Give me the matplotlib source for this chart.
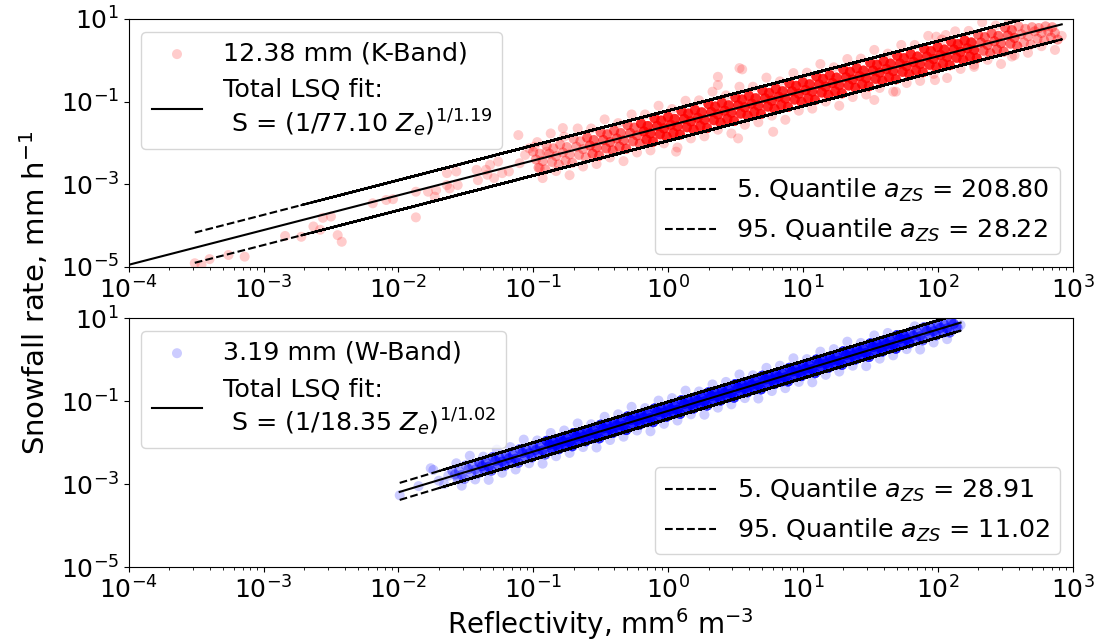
import numpy as np
import matplotlib
matplotlib.use("Agg")
import matplotlib.pyplot as plt
from matplotlib.ticker import LogLocator, NullLocator
from math import gcd

plt.rcParams["path.simplify"] = False

# ---------------- K-Band (12.38 mm) ----------------
k_label = "12.38 mm (K-Band)"
k_a, k_b = 77.10, 1.19
k_q05, k_q95 = 208.80, 28.22
k_fit_zmin = 1e-4
k_first_pass_end = -2.9

k_core_logz = [
    -1.00,-0.98,-0.96, -0.95,-0.93,-0.91, -0.90,-0.88,-0.86, -0.85,-0.83,-0.81,
    -0.80,-0.78,-0.76, -0.75,-0.73,-0.71, -0.70,-0.68,-0.66, -0.65,-0.63,-0.61,
    -0.60,-0.58,-0.56, -0.55,-0.53,-0.51, -0.50,-0.48,-0.46, -0.45,-0.43,-0.41,
    -0.40,-0.38,-0.36, -0.35,-0.33,-0.31, -0.30,-0.28,-0.26, -0.25,-0.23,-0.21,
    -0.20,-0.18,-0.16, -0.15,-0.13,-0.11, -0.10,-0.08,-0.06, -0.05,-0.03,-0.01,
    0.00,0.02,0.04, 0.05,0.07,0.09, 0.10,0.12,0.14, 0.15,0.17,0.19,
    0.20,0.22,0.24, 0.25,0.27,0.29, 0.30,0.32,0.34, 0.35,0.37,0.39,
    0.40,0.42,0.44, 0.45,0.47,0.49, 0.50,0.52,0.54, 0.55,0.57,0.59,
    0.60,0.62,0.64, 0.65,0.67,0.69, 0.70,0.72,0.74, 0.75,0.77,0.79,
    0.80,0.82,0.84, 0.85,0.87,0.89, 0.90,0.92,0.94, 0.95,0.97,0.99,
    1.00,1.02,1.04, 1.05,1.07,1.09, 1.10,1.12,1.14, 1.15,1.17,1.19,
    1.20,1.22,1.24, 1.25,1.27,1.29, 1.30,1.32,1.34, 1.35,1.37,1.39,
    1.40,1.42,1.44, 1.45,1.47,1.49, 1.50,1.52,1.54, 1.55,1.57,1.59,
    1.60,1.62,1.64, 1.65,1.67,1.69, 1.70,1.72,1.74, 1.75,1.77,1.79,
    1.80,1.82,1.84, 1.85,1.87,1.89, 1.90,1.92,1.94, 1.95,1.97,1.99,
    2.00,2.02,2.04, 2.05,2.07,2.09, 2.10,2.12,2.14, 2.15,2.17,2.19,
    2.20,2.22,2.24, 2.25,2.27,2.29, 2.30,2.32,2.34, 2.35,2.37,2.39,
    2.40,2.42,2.44, 2.45,2.47,2.49, 2.50,2.52,2.54, 2.55,2.57,2.59,
    2.60,2.62,2.64, 2.65,2.67,2.69, 2.70,2.72,2.74, 2.75,2.77,2.79,
    2.80,2.82,2.84, 2.85,2.87,2.89,
]
k_core_logs = [
    -2.21,-2.40,-2.60, -2.26,-2.44,-2.64, -2.07,-2.26,-2.46, -2.13,-2.32,-2.52,
    -2.04,-2.23,-2.43, -2.10,-2.28,-2.48, -1.90,-2.09,-2.29, -1.96,-2.15,-2.35,
    -1.87,-2.06,-2.26, -1.93,-2.11,-2.31, -1.74,-1.93,-2.13, -1.79,-1.98,-2.18,
    -1.70,-1.89,-2.09, -1.76,-1.94,-2.14, -1.57,-1.76,-1.96, -1.63,-1.82,-2.02,
    -1.53,-1.72,-1.92, -1.59,-1.77,-1.97, -1.40,-1.59,-1.79, -1.46,-1.65,-1.85,
    -1.37,-1.56,-1.76, -1.42,-1.60,-1.80, -1.23,-1.42,-1.62, -1.29,-1.48,-1.68,
    -1.20,-1.39,-1.59, -1.26,-1.44,-1.64, -1.06,-1.25,-1.45, -1.12,-1.31,-1.51,
    -1.03,-1.22,-1.42, -1.09,-1.27,-1.47, -0.90,-1.09,-1.29, -0.95,-1.14,-1.34,
    -0.86,-1.05,-1.25, -0.92,-1.10,-1.30, -0.73,-0.92,-1.12, -0.79,-0.98,-1.18,
    -0.69,-0.88,-1.08, -0.75,-0.93,-1.13, -0.56,-0.75,-0.95, -0.62,-0.81,-1.01,
    -0.53,-0.72,-0.92, -0.58,-0.76,-0.96, -0.39,-0.58,-0.78, -0.45,-0.64,-0.84,
    -0.36,-0.55,-0.75, -0.42,-0.60,-0.80, -0.22,-0.41,-0.61, -0.28,-0.47,-0.67,
    -0.19,-0.38,-0.58, -0.25,-0.43,-0.63, -0.06,-0.25,-0.45, -0.11,-0.30,-0.50,
    -0.02,-0.21,-0.41, -0.08,-0.26,-0.46, 0.11,-0.08,-0.28, 0.05,-0.14,-0.34,
    0.15,-0.04,-0.24, 0.09,-0.09,-0.29, 0.28,0.09,-0.11, 0.22,0.03,-0.17,
    0.32,0.13,-0.08, 0.26,0.08,-0.12, 0.45,0.26,0.06, 0.39,0.20,0.00,
    0.48,0.29,0.09, 0.43,0.25,0.05, 0.62,0.43,0.23, 0.56,0.37,0.17,
    0.65,0.46,0.26, 0.59,0.41,0.21, 0.79,0.60,0.40, 0.73,0.54,0.34,
    0.82,0.63,0.43, 0.76,0.58,0.38, 0.80,0.70,0.52, 0.78,0.66,0.48,
    0.82,0.70,0.55, 0.80,0.66,0.50,
]
k_core_n = [2] * 24 + [4] * 24 + [8] * 150 + [4] * 18 + [2] * 18

k_halo_logz = [
    -0.97,-0.93,-0.87,-0.83,-0.77,-0.73,-0.67,-0.63,-0.57,-0.53,-0.47,-0.43,
    -0.37,-0.33,-0.27,-0.23,-0.17,-0.13,-0.07,-0.03,0.03,0.07,0.13,0.17,
    0.23,0.27,0.33,0.37,0.43,0.47,0.53,0.57,0.63,0.67,0.73,0.77,
    0.83,0.87,0.93,0.97,1.03,1.07,1.13,1.17,1.23,1.27,1.33,1.37,
    1.43,1.47,1.53,1.57,1.63,1.67,1.73,1.77,1.83,1.87,1.93,1.97,
    2.03,2.07,2.13,2.17,2.23,2.27,2.33,2.37,2.43,2.47,2.53,2.57,
    2.67,2.77,2.87,
]
k_halo_logs = [
    -1.98,-2.85,-1.77,-2.68,-1.85,-2.78,-1.65,-2.57,-1.65,-2.51,-1.43,-2.35,
    -1.52,-2.44,-1.31,-2.23,-1.31,-2.18,-1.10,-2.01,-1.18,-2.11,-0.98,-1.89,
    -0.97,-1.84,-0.76,-1.68,-0.85,-1.77,-0.64,-1.56,-0.64,-1.50,-0.42,-1.34,
    -0.51,-1.44,-0.31,-1.22,-0.30,-1.17,-0.09,-1.00,-0.17,-1.10,0.03,-0.89,
    0.04,-0.83,0.25,-0.67,0.16,-0.76,0.37,-0.55,0.37,-0.50,0.59,-0.33,
    0.50,-0.43,0.70,-0.21,0.71,-0.16,0.92,0.01,0.84,-0.09,0.97,0.12,
    0.18,0.34,0.25,
]

k_sparse_logz = [
    -3.51,-3.46,-3.40,-3.26,-3.14,-2.84,-2.72,-2.63,-2.58,-2.56,-2.50,-2.45,
    -2.42,-2.19,-2.09,-2.04,-1.87,-1.87,-1.78,-1.73,-1.72,-1.64,-1.64,-1.62,
    -1.57,-1.56,-1.42,-1.41,-1.35,-1.34,-1.32,-1.29,-1.26,-1.23,-1.18,-1.11,
    -1.10,-1.06,-1.03,-0.99,-0.95,-0.90,
    -0.78,-0.31,0.06,0.37,0.37,0.52,0.53,0.55,0.78,1.53,1.69,1.98,
    1.99,2.06,2.27,2.55,2.92,
]
k_sparse_logs = [
    -4.91,-4.95,-4.81,-4.71,-4.75,-4.25,-4.27,-4.02,-4.10,-3.81,-3.78,-4.23,
    -4.39,-3.46,-3.38,-3.36,-3.80,-3.18,-3.18,-3.30,-3.14,-2.73,-3.02,-3.10,
    -2.69,-3.02,-2.65,-2.90,-2.65,-2.77,-2.53,-2.85,-2.45,-2.73,-2.69,-1.81,
    -2.49,-2.29,-2.13,-2.09,-2.61,-2.21,
    -1.64,-2.13,-2.21,-0.40,-0.60,-1.89,-0.19,-0.22,-1.73,-0.96,-0.76,-0.48,
    0.57,0.61,-0.11,0.09,0.59,
]

# ---------------- W-Band (3.19 mm) ----------------
w_label = "3.19 mm (W-Band)"
w_a, w_b = 18.35, 1.02
w_q05, w_q95 = 28.91, 11.02
w_first_pass_end = -1.75

w_core_logz = [
    -1.60,-1.58,-1.56, -1.55,-1.53,-1.51, -1.50,-1.48,-1.46, -1.45,-1.43,-1.41,
    -1.40,-1.38,-1.36, -1.35,-1.33,-1.31, -1.30,-1.28,-1.26, -1.25,-1.23,-1.21,
    -1.20,-1.18,-1.16, -1.15,-1.13,-1.11, -1.10,-1.08,-1.06, -1.05,-1.03,-1.01,
    -1.00,-0.98,-0.96, -0.95,-0.93,-0.91, -0.90,-0.88,-0.86, -0.85,-0.83,-0.81,
    -0.80,-0.78,-0.76, -0.75,-0.73,-0.71, -0.70,-0.68,-0.66, -0.65,-0.63,-0.61,
    -0.60,-0.58,-0.56, -0.55,-0.53,-0.51, -0.50,-0.48,-0.46, -0.45,-0.43,-0.41,
    -0.40,-0.38,-0.36, -0.35,-0.33,-0.31, -0.30,-0.28,-0.26, -0.25,-0.23,-0.21,
    -0.20,-0.18,-0.16, -0.15,-0.13,-0.11, -0.10,-0.08,-0.06, -0.05,-0.03,-0.01,
    0.00,0.02,0.04, 0.05,0.07,0.09, 0.10,0.12,0.14, 0.15,0.17,0.19,
    0.20,0.22,0.24, 0.25,0.27,0.29, 0.30,0.32,0.34, 0.35,0.37,0.39,
    0.40,0.42,0.44, 0.45,0.47,0.49, 0.50,0.52,0.54, 0.55,0.57,0.59,
    0.60,0.62,0.64, 0.65,0.67,0.69, 0.70,0.72,0.74, 0.75,0.77,0.79,
    0.80,0.82,0.84, 0.85,0.87,0.89, 0.90,0.92,0.94, 0.95,0.97,0.99,
    1.00,1.02,1.04, 1.05,1.07,1.09, 1.10,1.12,1.14, 1.15,1.17,1.19,
    1.20,1.22,1.24, 1.25,1.27,1.29, 1.30,1.32,1.34, 1.35,1.37,1.39,
    1.40,1.42,1.44, 1.45,1.47,1.49, 1.50,1.52,1.54, 1.55,1.57,1.59,
    1.60,1.62,1.64, 1.65,1.67,1.69, 1.70,1.72,1.74, 1.75,1.77,1.79,
    1.80,1.82,1.84, 1.85,1.87,1.89, 1.90,1.92,1.94, 1.95,1.97,1.99,
    2.00,2.02,2.04, 2.05,2.07,2.09, 2.10,2.12,2.14,
]
w_core_logs = [
    -2.68,-2.77,-2.88, -2.69,-2.78,-2.88, -2.55,-2.64,-2.74, -2.56,-2.65,-2.75,
    -2.48,-2.57,-2.68, -2.49,-2.58,-2.68, -2.35,-2.44,-2.54, -2.37,-2.46,-2.56,
    -2.29,-2.38,-2.49, -2.30,-2.39,-2.49, -2.16,-2.25,-2.35, -2.17,-2.26,-2.36,
    -2.09,-2.18,-2.29, -2.10,-2.19,-2.29, -1.96,-2.05,-2.15, -1.97,-2.06,-2.16,
    -1.89,-1.98,-2.09, -1.90,-1.99,-2.09, -1.77,-1.86,-1.96, -1.78,-1.87,-1.97,
    -1.70,-1.79,-1.90, -1.71,-1.80,-1.90, -1.57,-1.66,-1.76, -1.58,-1.67,-1.77,
    -1.50,-1.59,-1.70, -1.51,-1.60,-1.70, -1.37,-1.46,-1.56, -1.38,-1.47,-1.57,
    -1.31,-1.40,-1.51, -1.32,-1.41,-1.51, -1.18,-1.27,-1.37, -1.19,-1.28,-1.38,
    -1.11,-1.20,-1.31, -1.12,-1.21,-1.31, -0.98,-1.07,-1.17, -0.99,-1.08,-1.18,
    -0.91,-1.00,-1.11, -0.92,-1.01,-1.11, -0.79,-0.88,-0.98, -0.80,-0.89,-0.99,
    -0.72,-0.81,-0.92, -0.73,-0.82,-0.92, -0.59,-0.68,-0.78, -0.60,-0.69,-0.79,
    -0.52,-0.61,-0.72, -0.53,-0.62,-0.72, -0.39,-0.48,-0.58, -0.40,-0.49,-0.59,
    -0.33,-0.42,-0.53, -0.34,-0.43,-0.53, -0.20,-0.29,-0.39, -0.21,-0.30,-0.40,
    -0.13,-0.22,-0.33, -0.14,-0.23,-0.33, 0.00,-0.09,-0.19, -0.01,-0.10,-0.20,
    0.07,-0.02,-0.13, 0.06,-0.03,-0.13, 0.20,0.11,0.01, 0.19,0.10,0.00,
    0.26,0.17,0.06, 0.25,0.16,0.06, 0.39,0.30,0.20, 0.38,0.29,0.19,
    0.46,0.37,0.26, 0.45,0.36,0.26, 0.59,0.50,0.40, 0.58,0.49,0.39,
    0.66,0.57,0.46, 0.65,0.56,0.46, 0.78,0.69,0.59, 0.77,0.68,0.58,
    0.85,0.76,0.65, 0.84,0.75,0.65, 0.92,0.86,0.79,
]
w_core_n = [2] * 12 + [4] * 30 + [8] * 162 + [4] * 21

w_halo_logz = [
    -1.57,-1.53,-1.47,-1.43,-1.37,-1.33,-1.27,-1.23,-1.17,-1.13,-1.07,-1.03,
    -0.97,-0.93,-0.87,-0.83,-0.77,-0.73,-0.67,-0.63,-0.57,-0.53,-0.47,-0.43,
    -0.37,-0.33,-0.27,-0.23,-0.17,-0.13,-0.07,-0.03,0.03,0.07,0.13,0.17,
    0.23,0.27,0.33,0.37,0.43,0.47,0.53,0.57,0.63,0.67,0.73,0.77,
    0.83,0.87,0.93,0.97,1.03,1.07,1.13,1.17,1.23,1.27,1.33,1.37,
    1.43,1.47,1.53,1.57,1.63,1.67,1.77,1.83,1.87,1.97,2.07,
]
w_halo_logs = [
    -2.50,-3.04,-2.32,-2.89,-2.34,-2.90,-2.17,-2.73,-2.11,-2.65,-1.93,-2.50,
    -1.95,-2.51,-1.77,-2.33,-1.71,-2.25,-1.54,-2.11,-1.56,-2.12,-1.38,-1.94,
    -1.32,-1.86,-1.14,-1.71,-1.17,-1.73,-0.99,-1.55,-0.93,-1.47,-0.75,-1.32,
    -0.77,-1.33,-0.60,-1.16,-0.54,-1.08,-0.36,-0.93,-0.38,-0.94,-0.20,-0.76,
    -0.15,-0.69,0.03,-0.54,0.01,-0.55,0.19,-0.37,0.25,-0.29,0.43,-0.15,
    0.40,-0.16,0.58,0.02,0.64,0.10,0.25,0.80,0.24,0.41,0.49,
]

w_sparse_logz = [-1.99, -1.85, -1.76, -1.74, -1.70, -1.66, -1.63, 2.15, 2.17]
w_sparse_logs = [-3.27, -3.05, -2.62, -2.66, -2.92, -3.00, -2.80, 0.76, 0.83]


def zs_relation(z, a, b):
    """S = (Z / a) ** (1 / b)"""
    return (z / a) ** (1.0 / b)


def line_order(logz, first_pass_end):
    """Order in which the observations are traversed by the quantile curves:
    the sparse low-reflectivity start once, then the rest interleaved."""
    srt = np.sort(np.asarray(logz))
    head = srt[srt < first_pass_end]
    rest = srt[srt >= first_pass_end]
    n = len(rest)
    step = max(1, int(n * 0.382))
    while gcd(step, n) != 1:
        step += 1
    perm = (np.arange(n) * step) % n
    return np.concatenate([head, rest[perm]])


def panel(ax, color, alpha, label, core, halo, sparse, a, b, q05, q95,
          fit_zmin, first_pass_end):
    lz = np.concatenate([core[0], halo[0], sparse[0]])
    ls = np.concatenate([core[1], halo[1], sparse[1]])
    n = np.concatenate([core[2], np.ones(len(halo[0]), int),
                        np.ones(len(sparse[0]), int)])
    z = 10.0 ** np.repeat(lz, n)
    s = 10.0 ** np.repeat(ls, n)
    sc = ax.scatter(z, s, s=52, c=color, alpha=alpha, edgecolors="none",
                    label=label, zorder=2)

    zmin = fit_zmin if fit_zmin is not None else 10.0 ** lz.min()
    zfit = np.array([zmin, 10.0 ** lz.max()])
    fit_label = ("Total LSQ fit:\n S = (1/%.2f $Z_e$)$^{1/%.2f}$" % (a, b))
    lfit, = ax.plot(zfit, zs_relation(zfit, a, b), color="black", lw=1.5,
                    label=fit_label, zorder=3)

    zq = 10.0 ** line_order(lz, first_pass_end)
    l05, = ax.plot(zq, zs_relation(zq, q05, b), "k--", lw=1.5,
                   label="5. Quantile $a_{ZS}$ = %.2f" % q05, zorder=3)
    l95, = ax.plot(zq, zs_relation(zq, q95, b), "k--", lw=1.5,
                   label="95. Quantile $a_{ZS}$ = %.2f" % q95, zorder=3)

    ax.set_xscale("log")
    ax.set_yscale("log")
    ax.set_xlim(1e-4, 1e3)
    ax.set_ylim(1e-5, 1e1)
    ax.set_yticks([1e-5, 1e-3, 1e-1, 1e1])
    ax.yaxis.set_minor_locator(NullLocator())
    ax.xaxis.set_major_locator(LogLocator(base=10, numticks=20))
    ax.xaxis.set_minor_locator(LogLocator(base=10, subs=np.arange(2, 10),
                                          numticks=100))
    ax.tick_params(axis="both", which="major", labelsize=18)

    leg1 = ax.legend(handles=[sc, lfit], loc="upper left", fontsize=18.3)
    ax.add_artist(leg1)
    ax.legend(handles=[l05, l95], loc="lower right", fontsize=18.3)


fig = plt.figure(figsize=(11, 6.41), dpi=100)
ax1 = fig.add_axes([0.117, 0.5835, 0.858, 0.387])
ax2 = fig.add_axes([0.117, 0.1154, 0.858, 0.3885])

panel(ax1, "red", 0.2, k_label,
      (k_core_logz, k_core_logs, k_core_n),
      (k_halo_logz, k_halo_logs),
      (k_sparse_logz, k_sparse_logs),
      k_a, k_b, k_q05, k_q95, k_fit_zmin, k_first_pass_end)
panel(ax2, "blue", 0.2, w_label,
      (w_core_logz, w_core_logs, w_core_n),
      (w_halo_logz, w_halo_logs),
      (w_sparse_logz, w_sparse_logs),
      w_a, w_b, w_q05, w_q95, None, w_first_pass_end)

ax2.set_xlabel("Reflectivity, mm$^6$ m$^{-3}$", fontsize=20, labelpad=1.5)
fig.text(0.031, 0.543, "Snowfall rate, mm h$^{-1}$", rotation=90,
         fontsize=21, va="center", ha="center")

fig.savefig("out.png", dpi=100)
